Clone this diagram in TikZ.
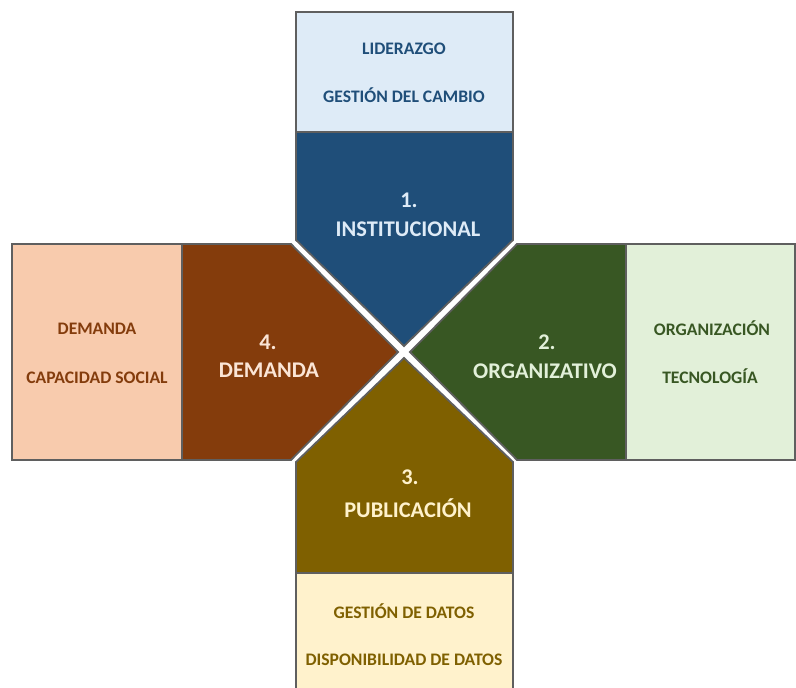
\documentclass[tikz,border=0pt]{standalone}
\usepackage{fontspec}
\setmainfont{Carlito}
\definecolor{bordergray}{HTML}{5F5F5F}
\definecolor{blueLight}{HTML}{DEEBF7}
\definecolor{blueDark}{HTML}{1F4E79}
\definecolor{greenLight}{HTML}{E2F0D9}
\definecolor{greenDark}{HTML}{385723}
\definecolor{brownLight}{HTML}{F8CBAD}
\definecolor{brownDark}{HTML}{843C0C}
\definecolor{brownLabel}{HTML}{FBE5D6}
\definecolor{oliveLight}{HTML}{FFF2CC}
\definecolor{oliveDark}{HTML}{7F6000}
\begin{document}
\begin{tikzpicture}[x=1pt,y=-1pt,
  panel/.style={draw=bordergray, line width=1.8pt, line join=miter},
  small/.style={font=\fontsize{17.6}{20}\selectfont\bfseries, inner sep=0pt, anchor=base},
  big/.style={font=\fontsize{22.4}{26}\selectfont\bfseries, inner sep=0pt, anchor=base}]
\useasboundingbox (0,0) rectangle (796,688);

% top arm
\path[panel, fill=blueLight] (296,12) rectangle (513,132);
\path[panel, fill=blueDark] (296,132) -- (513,132) -- (513,240) -- (404,346) -- (296,240) -- cycle;
% left arm
\path[panel, fill=brownLight] (12,244) rectangle (182,460);
\path[panel, fill=brownDark] (182,244) -- (291,244) -- (398,352) -- (291,460) -- (182,460) -- cycle;
% right arm
\path[panel, fill=greenDark] (517,244) -- (626,244) -- (626,460) -- (517,460) -- (410,352) -- cycle;
\path[panel, fill=greenLight] (626,244) rectangle (795,460);
% bottom arm
\path[panel, fill=oliveDark] (296,462) -- (404,358) -- (513,462) -- (513,573) -- (296,573) -- cycle;
\path[panel, fill=oliveLight] (296,573) rectangle (513,694);

% labels top
\node[small, text=blueDark] (t1) at (404,54.7) {LIDERAZGO};
\node[small, text=blueDark] (t2) at (404,102.7) {GESTIÓN DEL CAMBIO};
\node[big, text=blueLight] (n1) at (409,207.2) {1.};
\node[big, text=blueLight] (l1) at (408,236.2) {INSTITUCIONAL};
% labels left
\node[small, text=brownDark] (d1) at (97,334.7) {DEMANDA};
\node[small, text=brownDark] (d2) at (97,383.7) {CAPACIDAD SOCIAL};
\node[big, text=brownLabel] (n4) at (268,349.2) {4.};
\node[big, text=brownLabel] (l4) at (269,377.2) {DEMANDA};
% labels right
\node[small, text=greenDark] (o1) at (712,335.7) {ORGANIZACIÓN};
\node[small, text=greenDark] (o2) at (710,383.7) {TECNOLOGÍA};
\node[big, text=greenLight] (n2) at (547,349.2) {2.};
\node[big, text=greenLight] (l2) at (545,378.2) {ORGANIZATIVO};
% labels bottom
\node[big, text=oliveLight] (n3) at (410,484.2) {3.};
\node[big, text=oliveLight] (l3) at (408,517.2) {PUBLICACIÓN};
\node[small, text=oliveDark] (p1) at (404,618.7) {GESTIÓN DE DATOS};
\node[small, text=oliveDark] (p2) at (404,665.7) {DISPONIBILIDAD DE DATOS};
\end{tikzpicture}
\end{document}
